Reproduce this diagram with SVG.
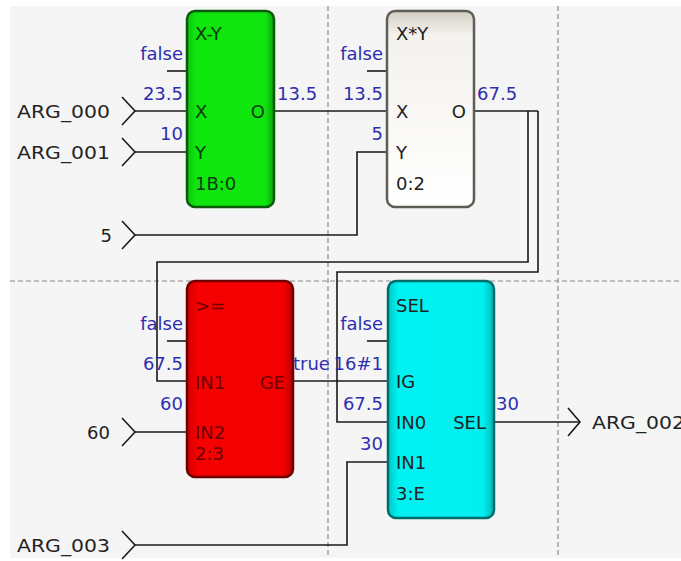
<svg xmlns="http://www.w3.org/2000/svg" width="681" height="561" viewBox="0 0 681 561">
<defs>
<style>
text{font-family:"DejaVu Sans","Liberation Sans",sans-serif;font-size:18px}
.lbl{fill:#222}
.val{fill:#2e2eb0}
.e{text-anchor:end}
.wire{fill:none;stroke:#1a1a1a;stroke-width:1.6}
.grid{fill:none;stroke:#8c8c8c;stroke-width:1.2;stroke-dasharray:5,3}
</style>
<linearGradient id="gW" x1="0" y1="0" x2="0" y2="1">
<stop offset="0" stop-color="#d2cdc2"/><stop offset="0.12" stop-color="#f4f2ee"/><stop offset="1" stop-color="#ffffff"/>
</linearGradient>
<linearGradient id="gG" x1="0" y1="0" x2="1" y2="0">
<stop offset="0" stop-color="#10c010"/><stop offset="0.1" stop-color="#0ee60e"/><stop offset="0.9" stop-color="#0ee60e"/><stop offset="1" stop-color="#0aa00a"/>
</linearGradient>
<linearGradient id="gR" x1="0" y1="0" x2="1" y2="0">
<stop offset="0" stop-color="#d00000"/><stop offset="0.1" stop-color="#f60000"/><stop offset="0.9" stop-color="#f40000"/><stop offset="1" stop-color="#b80000"/>
</linearGradient>
<linearGradient id="gC" x1="0" y1="0" x2="1" y2="0">
<stop offset="0" stop-color="#00c8c8"/><stop offset="0.1" stop-color="#00f2f2"/><stop offset="0.9" stop-color="#00f0f0"/><stop offset="1" stop-color="#00b0b0"/>
</linearGradient>
</defs>
<rect x="0" y="0" width="681" height="561" fill="#ffffff"/>
<rect x="10" y="6" width="671" height="552" fill="#f5f5f5"/>
<g id="grid">
<line class="grid" x1="328" y1="6" x2="328" y2="558"/>
<line class="grid" x1="558" y1="6" x2="558" y2="558"/>
<line class="grid" x1="10" y1="281" x2="681" y2="281"/>
</g>
<g id="connectors">
<polyline class="wire" points="122,97 135,111 122,125"/>
<line class="wire" x1="135" y1="111" x2="187" y2="111"/>
<polyline class="wire" points="122,138 135,152 122,166"/>
<line class="wire" x1="135" y1="152" x2="187" y2="152"/>
<polyline class="wire" points="122,221 135,235 122,249"/>
<polyline class="wire" points="135,235 357,235 357,152 387,152"/>
<polyline class="wire" points="122,418 135,432 122,446"/>
<line class="wire" x1="135" y1="432" x2="187" y2="432"/>
<polyline class="wire" points="122,531 135,545 122,559"/>
<polyline class="wire" points="135,545 347,545 347,462 388,462"/>
<line class="wire" x1="167" y1="71" x2="187" y2="71"/>
<line class="wire" x1="367" y1="71" x2="387" y2="71"/>
<line class="wire" x1="167" y1="341" x2="187" y2="341"/>
<line class="wire" x1="367" y1="341" x2="388" y2="341"/>
<line class="wire" x1="274" y1="111" x2="387" y2="111"/>
<line class="wire" x1="474" y1="111" x2="538" y2="111"/>
<polyline class="wire" points="528,111 528,262 157,262 157,381 187,381"/>
<polyline class="wire" points="538,111 538,272 337,272 337,422 388,422"/>
<line class="wire" x1="293" y1="381" x2="388" y2="381"/>
<line class="wire" x1="494" y1="422" x2="580" y2="422"/>
<polyline class="wire" points="568,408 580,422 568,436"/>
</g>
<g id="inputs">
<text class="lbl e" x="110" y="117.5" textLength="93" lengthAdjust="spacingAndGlyphs">ARG_000</text>
<text class="lbl e" x="110" y="158.5" textLength="93" lengthAdjust="spacingAndGlyphs">ARG_001</text>
<text class="lbl e" x="112" y="241.5">5</text>
<text class="lbl e" x="110" y="438.5">60</text>
<text class="lbl e" x="110" y="551.5" textLength="93" lengthAdjust="spacingAndGlyphs">ARG_003</text>
</g>
<g id="output">
<text class="lbl" x="592" y="428.5" textLength="93" lengthAdjust="spacingAndGlyphs">ARG_002</text>
</g>
<g id="block_sub">
<rect x="187" y="11" width="87" height="196" rx="8" fill="url(#gG)" stroke="#0b5a0b" stroke-width="2.5"/>
<text x="195" y="39.5" fill="#0c3c0c">X-Y</text>
<text x="195" y="117.5" fill="#0c3c0c">X</text>
<text x="195" y="158.5" fill="#0c3c0c">Y</text>
<text x="195" y="189.5" fill="#0c3c0c">1B:0</text>
<text class="e" x="265" y="117.5" fill="#0c3c0c">O</text>
<text class="val e" x="183" y="59.5">false</text>
<text class="val e" x="183" y="99.5">23.5</text>
<text class="val e" x="183" y="139.5">10</text>
<text class="val" x="277" y="99.5">13.5</text>
</g>
<g id="block_mul">
<rect x="387" y="11" width="87" height="196" rx="8" fill="url(#gW)" stroke="#5e5e56" stroke-width="2.5"/>
<text class="lbl" x="396" y="39.5">X*Y</text>
<text class="lbl" x="396" y="117.5">X</text>
<text class="lbl" x="396" y="158.5">Y</text>
<text class="lbl" x="396" y="189.5">0:2</text>
<text class="lbl e" x="466" y="117.5">O</text>
<text class="val e" x="383" y="59.5">false</text>
<text class="val e" x="383" y="99.5">13.5</text>
<text class="val e" x="383" y="139.5">5</text>
<text class="val" x="477" y="99.5">67.5</text>
</g>
<g id="block_ge">
<rect x="187" y="281" width="106" height="196" rx="8" fill="url(#gR)" stroke="#6e0000" stroke-width="2.5"/>
<text x="195" y="311.5" fill="#6a0000">&gt;=</text>
<text x="195" y="388.5" fill="#6a0000">IN1</text>
<text x="195" y="438.5" fill="#6a0000">IN2</text>
<text x="195" y="459.5" fill="#6a0000">2:3</text>
<text class="e" x="285" y="388.5" fill="#6a0000">GE</text>
<text class="val e" x="183" y="329.5">false</text>
<text class="val e" x="183" y="369.5">67.5</text>
<text class="val e" x="183" y="409.5">60</text>
<text class="val" x="293" y="369.5">true</text>
</g>
<g id="block_sel">
<rect x="388" y="281" width="106" height="237" rx="8" fill="url(#gC)" stroke="#006c6c" stroke-width="2.5"/>
<text class="lbl" x="396" y="311.5">SEL</text>
<text class="lbl" x="396" y="387.5">IG</text>
<text class="lbl" x="396" y="428.5">IN0</text>
<text class="lbl" x="396" y="468.5">IN1</text>
<text class="lbl" x="396" y="499.5">3:E</text>
<text class="lbl e" x="486" y="428.5">SEL</text>
<text class="val e" x="383" y="329.5">false</text>
<text class="val e" x="383" y="369.5">16#1</text>
<text class="val e" x="383" y="409.5">67.5</text>
<text class="val e" x="383" y="449.5">30</text>
<text class="val" x="496" y="409.5">30</text>
</g>
</svg>
